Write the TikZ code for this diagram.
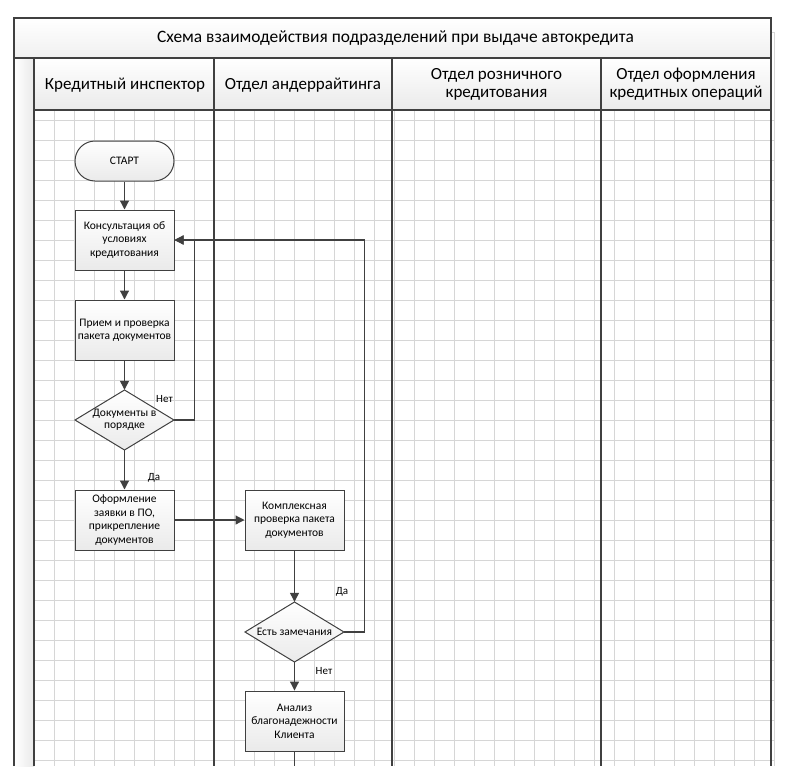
\documentclass[tikz,border=0pt]{standalone}
\usepackage{fontspec}
\setmainfont{Carlito}
\usetikzlibrary{arrows.meta}
\definecolor{linec}{HTML}{404040}
\definecolor{gridc}{HTML}{D6D6D6}
\definecolor{shadec}{HTML}{EAEAEA}
\definecolor{headc}{HTML}{EAEAEA}
\begin{document}
\begin{tikzpicture}[x=1pt,y=-1pt,
  gridline/.style={draw=gridc, line width=0.8pt},
  border/.style={draw=linec, line width=1.2pt},
  box/.style={draw=linec, line width=1pt, top color=white, bottom color=shadec,
    minimum width=99pt, minimum height=60pt, inner sep=0pt, align=center,
    font=\fontsize{11.5}{13.5}\selectfont},
  startbox/.style={box, minimum height=40pt, rounded corners=20pt},
  diatext/.style={minimum width=99pt, minimum height=60pt, inner sep=0pt, align=center,
    font=\fontsize{11.5}{13.5}\selectfont},
  diashape/.style={draw=linec, line width=1pt, top color=white, bottom color=shadec},
  conn/.style={draw=linec, line width=1.2pt, -{Triangle[length=9pt,width=9pt]}},
  plainline/.style={draw=linec, line width=1.2pt},
  lbl/.style={inner sep=1pt, font=\fontsize{11}{13}\selectfont},
  titletext/.style={font=\fontsize{17.4}{20}\selectfont},
  headtext/.style={align=center, font=\fontsize{17}{18}\selectfont}
]
\useasboundingbox (0,0) rectangle (803,766);
% grid
\foreach \x in {54,74,...,774} \draw[gridline] (\x,110) -- (\x,766);
\foreach \y in {120,140,...,760} \draw[gridline] (34,\y) -- (774,\y);
\draw[gridline] (771,32) -- (774,32) -- (774,110);
% title row and header fills
\path[top color=white, bottom color=headc!70] (14,18) rectangle (771,58);
\path[top color=white, bottom color=headc] (34,58) rectangle (771,110);
\path[left color=white, right color=headc] (14,58) rectangle (34,766);
% borders
\draw[border] (14,766) -- (14,18) -- (771,18) -- (771,766);
\draw[border] (14,58) -- (771,58);
\draw[border] (34,110) -- (771,110);
\foreach \x in {34,214,392,601} \draw[border] (\x,58) -- (\x,766);
% texts in header
\node[titletext] (title) at (395.5,38) {Схема взаимодействия подразделений при выдаче автокредита};
\node[headtext] (h1) at (125,85) {Кредитный инспектор};
\node[headtext] (h2) at (303,85) {Отдел андеррайтинга};
\node[headtext] (h3) at (496.5,84) {Отдел розничного\\кредитования};
\node[headtext] (h4) at (686,84) {Отдел оформления\\кредитных операций};
% diamonds
\path[diashape] (124.5,390) -- (174,420) -- (124.5,450) -- (75,420) -- cycle;
\path[diashape] (294.5,602) -- (344,632) -- (294.5,662) -- (245,632) -- cycle;
% nodes
\node[startbox] (s) at (124.5,161) {СТАРТ};
\node[box] (c1) at (124.5,240) {Консультация об\\условиях\\кредитования};
\node[box] (p1) at (124.5,330) {Прием и проверка\\пакета документов};
\node[diatext] (d1) at (124.5,420) {\raisebox{-1pt}{\begin{tabular}{@{}c@{}}Документы в\\[-2pt]порядке\end{tabular}}};
\node[box] (o1) at (124.5,520) {Оформление\\заявки в ПО,\\прикрепление\\документов};
\node[box] (k1) at (294.5,520) {Комплексная\\проверка пакета\\документов};
\node[diatext] (d2) at (294.5,632) {Есть замечания};
\node[box] (a1) at (294.5,721) {Анализ\\благонадежности\\Клиента};
\coordinate (bottomend) at (294.5,766);
% connectors
\draw[conn] (s) -- (c1);
\draw[conn] (c1) -- (p1);
\draw[conn] (p1) -- (d1.north);
\draw[conn] (d1.south) -- (o1);
\draw[conn] (d1.east) -- ++(20,0) |- (c1.east);
\draw[conn] (o1) -- (k1);
\draw[conn] (k1) -- (d2.north);
\draw[conn] (d2.east) -- ++(20,0) |- (c1.east);
\draw[conn] (d2.south) -- (a1);
\draw[plainline] (a1) -- (bottomend);
% labels
\node[lbl] (n1) at (164.5,399) {Нет};
\node[lbl] (y1) at (154,478) {Да};
\node[lbl] (y2) at (342,592) {Да};
\node[lbl] (n2) at (324,671) {Нет};
\end{tikzpicture}
\end{document}
